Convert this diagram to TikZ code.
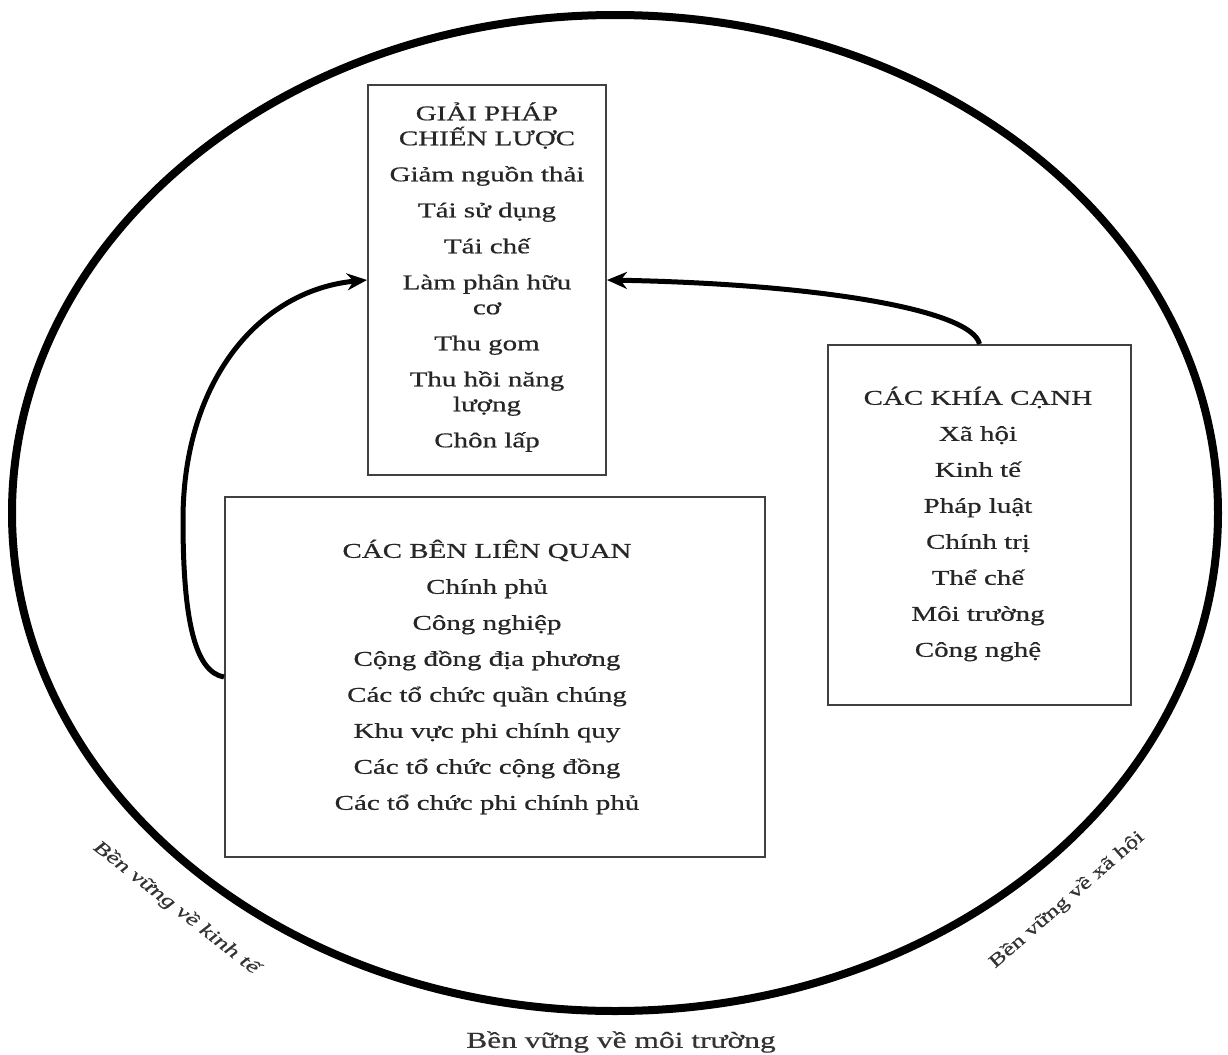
\documentclass[tikz,border=0pt]{standalone}
\usepackage{fontspec}
\setmainfont{Liberation Serif}
\newfontfamily\widefont{Liberation Serif}[FakeStretch=1.38,FakeBold=0.6]
\usetikzlibrary{arrows.meta}
\begin{document}
\begin{tikzpicture}[x=0.5pt,y=-0.5pt,
  frame/.style={draw=black!75,line width=1pt,rectangle,inner sep=0pt},
  listtext/.style={align=center,text=black!85,font=\widefont\fontsize{10.5}{12.5}\selectfont,inner sep=0pt},
  flow/.style={line width=2.5pt,-{Stealth[length=10pt,width=8.5pt]}},
  side/.style={text=black!80,font=\widefont\fontsize{9.2}{11}\selectfont,inner sep=0pt}]
\useasboundingbox (0,0) rectangle (1228,1055);
\fill[white] (0,0) rectangle (1228,1055);

% outer ring
\draw[line width=4pt] (615,513) ellipse [x radius=603, y radius=498];

% boxes
\node[frame,minimum width=119pt,minimum height=195pt] (sol) at (487,280) {};
\node[frame,minimum width=151.5pt,minimum height=180pt] (asp) at (979.5,525) {};
\node[frame,minimum width=270pt,minimum height=180pt] (stk) at (495,677) {};

% box contents
\node[listtext] (soltext) at (487,277) {GIẢI PHÁP\\CHIẾN LƯỢC\\[5.5pt]Giảm nguồn thải\\[5.5pt]Tái sử dụng\\[5.5pt]Tái chế\\[5.5pt]Làm phân hữu\\cơ\\[5.5pt]Thu gom\\[5.5pt]Thu hồi năng\\lượng\\[5.5pt]Chôn lấp};
\node[listtext] (asptext) at (978,524) {CÁC KHÍA CẠNH\\[5.5pt]Xã hội\\[5.5pt]Kinh tế\\[5.5pt]Pháp luật\\[5.5pt]Chính trị\\[5.5pt]Thể chế\\[5.5pt]Môi trường\\[5.5pt]Công nghệ};
\node[listtext] (stktext) at (487,677) {CÁC BÊN LIÊN QUAN\\[5.5pt]Chính phủ\\[5.5pt]Công nghiệp\\[5.5pt]Cộng đồng địa phương\\[5.5pt]Các tổ chức quần chúng\\[5.5pt]Khu vực phi chính quy\\[5.5pt]Các tổ chức cộng đồng\\[5.5pt]Các tổ chức phi chính phủ};

% connectors
\draw[flow] (stk.west) .. controls (195,672) and (183,620) .. (183,520)
  .. controls (183,380) and (260,290) .. (sol.west);
\draw[flow] (asp.north) .. controls (972,310) and (820,284) .. (sol.east);

% labels round the ring
\node[side,font=\widefont\fontsize{9.4}{11}\selectfont\itshape,rotate=-38] (econ) at (176,908) {Bền vững về kinh tế};
\node[side,rotate=41] (soc) at (1067,900) {Bền vững về xã hội};
\node[side,font=\widefont\fontsize{11.4}{13}\selectfont] (env) at (621,1042) {Bền vững về môi trường};
\end{tikzpicture}
\end{document}
